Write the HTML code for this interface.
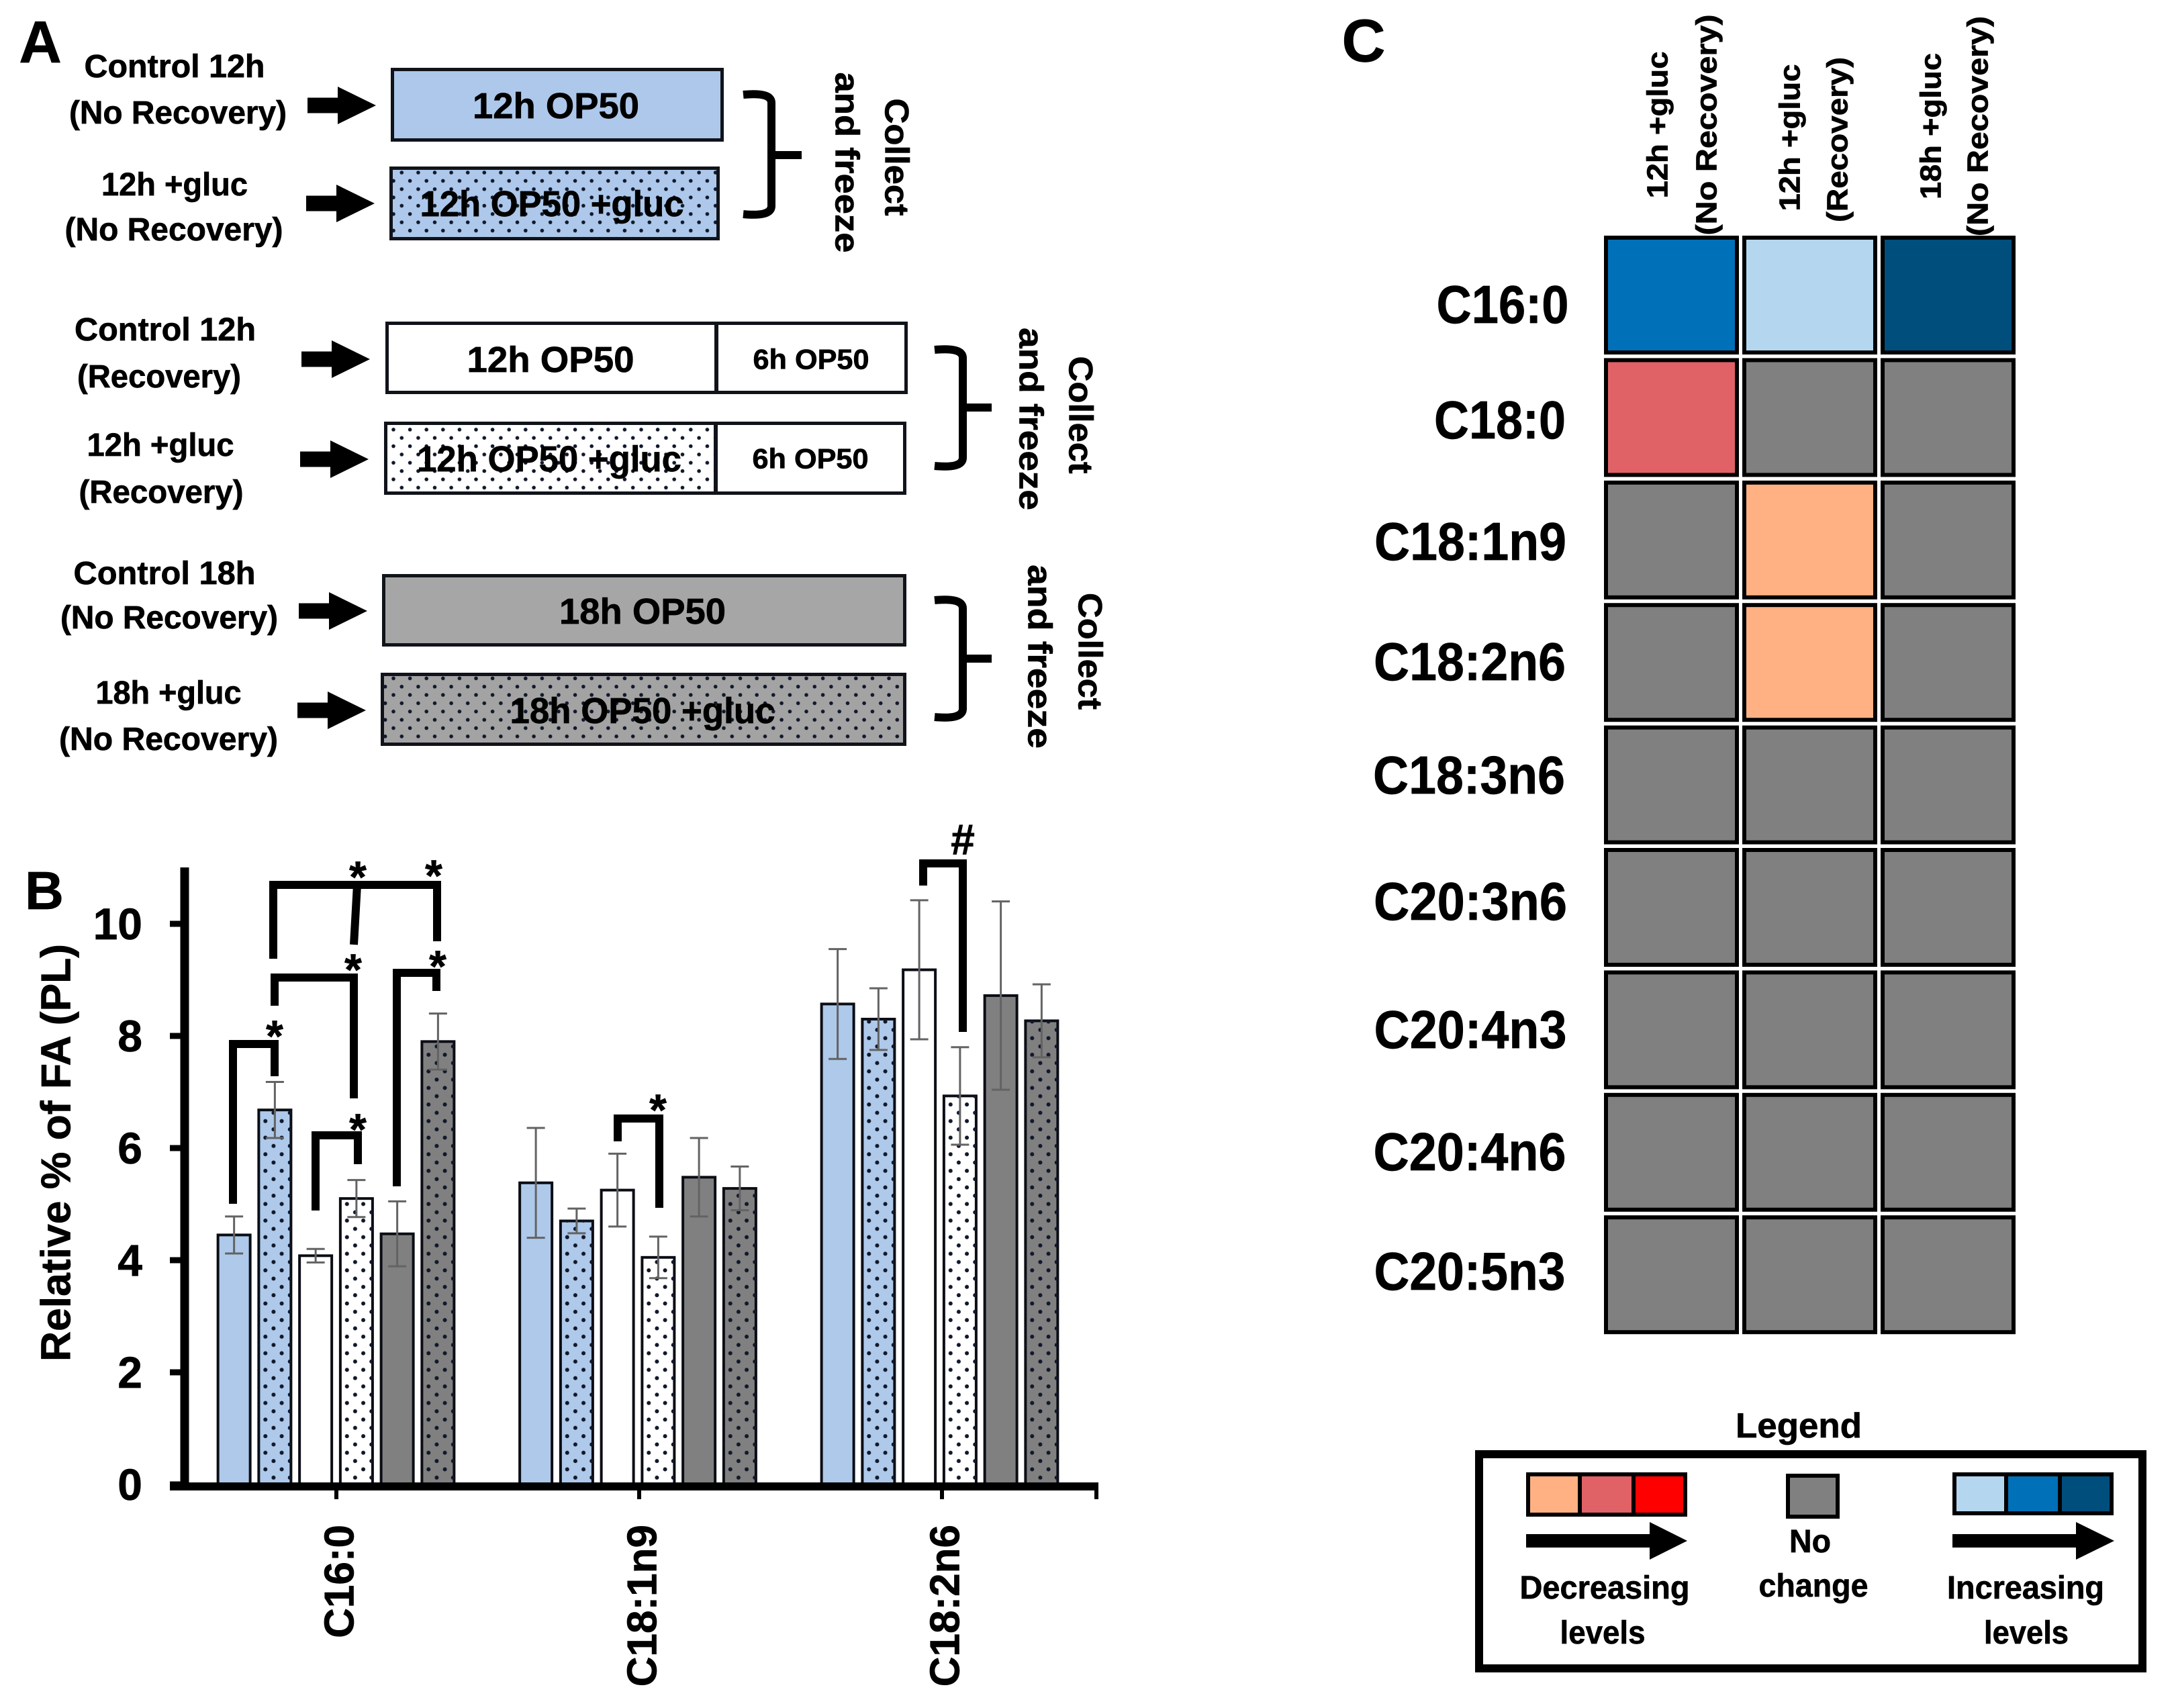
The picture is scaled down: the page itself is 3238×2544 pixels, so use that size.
<!DOCTYPE html>
<html lang="en">
<head>
<meta charset="utf-8">
<title>Fatty acid composition figure</title>
<style>
html,body{margin:0;padding:0;background:#fff;}
svg{display:block;}
text{font-family:"Liberation Sans",sans-serif;font-weight:bold;fill:#000;text-anchor:middle;stroke:#000;stroke-width:.7;}
</style>
</head>
<body>
<svg id="fig" xmlns="http://www.w3.org/2000/svg" width="3238" height="2544" viewBox="0 0 3238 2544">
<defs>
<pattern id="dotsA" patternUnits="userSpaceOnUse" x="592.3" y="251" width="24.6" height="24.7">
<circle cx="6" cy="6" r="2.8" fill="#10182a"/><circle cx="18.3" cy="18.35" r="2.8" fill="#10182a"/>
</pattern>
</defs>
<rect width="3238" height="2544" fill="#fff"/>

<!-- PANEL A -->
<g>
<text x="60" y="62" dy=".35em" font-size="88">A</text>

<text x="260" y="98" dy=".35em" font-size="48" textLength="269" lengthAdjust="spacingAndGlyphs">Control 12h</text>
<text x="265" y="167" dy=".35em" font-size="48" textLength="324" lengthAdjust="spacingAndGlyphs">(No Recovery)</text>
<text x="260" y="274" dy=".35em" font-size="48" textLength="218" lengthAdjust="spacingAndGlyphs">12h +gluc</text>
<text x="259" y="341" dy=".35em" font-size="48" textLength="325" lengthAdjust="spacingAndGlyphs">(No Recovery)</text>
<text x="246" y="490" dy=".35em" font-size="48" textLength="270" lengthAdjust="spacingAndGlyphs">Control 12h</text>
<text x="237" y="560" dy=".35em" font-size="48" textLength="244" lengthAdjust="spacingAndGlyphs">(Recovery)</text>
<text x="239" y="662" dy=".35em" font-size="48" textLength="219" lengthAdjust="spacingAndGlyphs">12h +gluc</text>
<text x="240" y="732" dy=".35em" font-size="48" textLength="245" lengthAdjust="spacingAndGlyphs">(Recovery)</text>
<text x="245" y="853" dy=".35em" font-size="48" textLength="271" lengthAdjust="spacingAndGlyphs">Control 18h</text>
<text x="252" y="919" dy=".35em" font-size="48" textLength="324" lengthAdjust="spacingAndGlyphs">(No Recovery)</text>
<text x="251" y="1031" dy=".35em" font-size="48" textLength="217" lengthAdjust="spacingAndGlyphs">18h +gluc</text>
<text x="251" y="1100" dy=".35em" font-size="48" textLength="326" lengthAdjust="spacingAndGlyphs">(No Recovery)</text>

<polygon transform="translate(458,157)" points="0,-11.5 45,-11.5 45,-28 102,0 45,28 45,11.5 0,11.5" fill="#000"/>
<polygon transform="translate(456,303)" points="0,-11.5 45,-11.5 45,-28 102,0 45,28 45,11.5 0,11.5" fill="#000"/>
<polygon transform="translate(449,535)" points="0,-11.5 45,-11.5 45,-28 102,0 45,28 45,11.5 0,11.5" fill="#000"/>
<polygon transform="translate(447,684)" points="0,-11.5 45,-11.5 45,-28 102,0 45,28 45,11.5 0,11.5" fill="#000"/>
<polygon transform="translate(445,910)" points="0,-11.5 45,-11.5 45,-28 102,0 45,28 45,11.5 0,11.5" fill="#000"/>
<polygon transform="translate(443,1058)" points="0,-11.5 45,-11.5 45,-28 102,0 45,28 45,11.5 0,11.5" fill="#000"/>

<rect x="584.5" y="103.5" width="491" height="105" fill="#adc8ea" stroke="#10131a" stroke-width="5"/>
<text x="828" y="157" dy=".35em" font-size="54" textLength="248" lengthAdjust="spacingAndGlyphs">12h OP50</text>

<rect x="582.5" y="250.5" width="487" height="105" fill="#adc8ea" stroke="#10131a" stroke-width="5"/>
<rect x="585" y="253" width="482" height="100" fill="url(#dotsA)"/>
<text x="822" y="303" dy=".35em" font-size="54" textLength="393" lengthAdjust="spacingAndGlyphs">12h OP50 +gluc</text>

<rect x="576.5" y="481.5" width="773" height="103" fill="#fff" stroke="#10131a" stroke-width="5"/>
<line x1="1067" y1="481" x2="1067" y2="585" stroke="#10131a" stroke-width="6"/>
<text x="820" y="535" dy=".35em" font-size="54" textLength="249" lengthAdjust="spacingAndGlyphs">12h OP50</text>
<text x="1208" y="535" dy=".35em" font-size="42" textLength="173" lengthAdjust="spacingAndGlyphs">6h OP50</text>

<rect x="574.5" y="630.5" width="773" height="104" fill="#fff" stroke="#10131a" stroke-width="5"/>
<rect x="577" y="633" width="488" height="99" fill="url(#dotsA)"/>
<line x1="1066" y1="630" x2="1066" y2="735" stroke="#10131a" stroke-width="6"/>
<text x="818" y="683" dy=".35em" font-size="54" textLength="394" lengthAdjust="spacingAndGlyphs">12h OP50 +gluc</text>
<text x="1207" y="683" dy=".35em" font-size="42" textLength="173" lengthAdjust="spacingAndGlyphs">6h OP50</text>

<rect x="571.5" y="857.5" width="776" height="103" fill="#a6a6a6" stroke="#10131a" stroke-width="5"/>
<text x="957" y="910" dy=".35em" font-size="54" textLength="248" lengthAdjust="spacingAndGlyphs">18h OP50</text>

<rect x="569.5" y="1004.5" width="778" height="104" fill="#a3a3a3" stroke="#10131a" stroke-width="5"/>
<rect x="572" y="1007" width="773" height="99" fill="url(#dotsA)"/>
<text x="957" y="1058" dy=".35em" font-size="54" textLength="395" lengthAdjust="spacingAndGlyphs">18h OP50 +gluc</text>

<path d="M1107,141 Q1149,137 1149,153 V307 Q1149,323 1107,319 M1149,231 H1194" fill="none" stroke="#000" stroke-width="12"/>
<path d="M1392,521 Q1434,517 1434,533 V682 Q1434,698 1392,694 M1434,607 H1477" fill="none" stroke="#000" stroke-width="12"/>
<path d="M1392,894 Q1434,890 1434,906 V1056 Q1434,1072 1392,1068 M1434,981 H1477" fill="none" stroke="#000" stroke-width="12"/>

<text transform="translate(1336,234) rotate(90)" dy=".35em" font-size="50" textLength="175" lengthAdjust="spacingAndGlyphs">Collect</text>
<text transform="translate(1262,242) rotate(90)" dy=".35em" font-size="50" textLength="269" lengthAdjust="spacingAndGlyphs">and freeze</text>
<text transform="translate(1610,618) rotate(90)" dy=".35em" font-size="50" textLength="175" lengthAdjust="spacingAndGlyphs">Collect</text>
<text transform="translate(1536,624) rotate(90)" dy=".35em" font-size="50" textLength="272" lengthAdjust="spacingAndGlyphs">and freeze</text>
<text transform="translate(1624,970) rotate(90)" dy=".35em" font-size="50" textLength="174" lengthAdjust="spacingAndGlyphs">Collect</text>
<text transform="translate(1549,978) rotate(90)" dy=".35em" font-size="50" textLength="274" lengthAdjust="spacingAndGlyphs">and freeze</text>
</g>

<!-- PANEL B -->
<g id="panelB">
<text x="66" y="1326" dy=".35em" font-size="80">B</text>
<text transform="translate(83,1717) rotate(-90)" dy=".35em" font-size="62" textLength="622" lengthAdjust="spacingAndGlyphs">Relative % of FA (PL)</text>
<g id="bars"></g>
<g id="axes"></g>
<g fill="none" stroke="#000" stroke-width="12">
<path d="M407,1428 V1318 H651 V1402 M532,1318 L527,1407"/>
<path d="M409,1498 V1456 H527 V1636"/>
<path d="M347,1793 V1555 H409 V1603"/>
<path d="M470,1803 V1691 H533 V1734"/>
<path d="M591,1767 V1449 H650 V1476"/>
<path d="M920,1700 V1666 H982 V1799"/>
<path d="M1375,1319 V1286 H1434 V1537"/>
</g>
<g>
<text x="533" y="1329" font-size="66">*</text>
<text x="646" y="1327" font-size="66">*</text>
<text x="526" y="1467" font-size="66">*</text>
<text x="652" y="1462" font-size="66">*</text>
<text x="409" y="1566" font-size="66">*</text>
<text x="533" y="1705" font-size="66">*</text>
<text x="980" y="1676" font-size="66">*</text>
<text x="1434" y="1250" dy=".35em" font-size="64">#</text>
</g>
</g>

<!-- PANEL C -->
<g>
<text x="2031" y="60" dy=".35em" font-size="90">C</text>
<text transform="translate(2468,186) rotate(-90)" dy=".35em" font-size="44" textLength="219" lengthAdjust="spacingAndGlyphs">12h +gluc</text>
<text transform="translate(2541,186) rotate(-90)" dy=".35em" font-size="44" textLength="329" lengthAdjust="spacingAndGlyphs">(No Recovery)</text>
<text transform="translate(2665,205) rotate(-90)" dy=".35em" font-size="44" textLength="219" lengthAdjust="spacingAndGlyphs">12h +gluc</text>
<text transform="translate(2736,208) rotate(-90)" dy=".35em" font-size="44" textLength="246" lengthAdjust="spacingAndGlyphs">(Recovery)</text>
<text transform="translate(2875,188) rotate(-90)" dy=".35em" font-size="44" textLength="218" lengthAdjust="spacingAndGlyphs">18h +gluc</text>
<text transform="translate(2945,188) rotate(-90)" dy=".35em" font-size="44" textLength="328" lengthAdjust="spacingAndGlyphs">(No Recovery)</text>

<text x="2238" y="453" dy=".35em" font-size="80" textLength="197" lengthAdjust="spacingAndGlyphs">C16:0</text>
<text x="2234" y="625" dy=".35em" font-size="80" textLength="196" lengthAdjust="spacingAndGlyphs">C18:0</text>
<text x="2190" y="806" dy=".35em" font-size="80" textLength="286" lengthAdjust="spacingAndGlyphs">C18:1n9</text>
<text x="2189" y="985" dy=".35em" font-size="80" textLength="286" lengthAdjust="spacingAndGlyphs">C18:2n6</text>
<text x="2188" y="1154" dy=".35em" font-size="80" textLength="286" lengthAdjust="spacingAndGlyphs">C18:3n6</text>
<text x="2190" y="1342" dy=".35em" font-size="80" textLength="288" lengthAdjust="spacingAndGlyphs">C20:3n6</text>
<text x="2190" y="1533" dy=".35em" font-size="80" textLength="287" lengthAdjust="spacingAndGlyphs">C20:4n3</text>
<text x="2189" y="1715" dy=".35em" font-size="80" textLength="287" lengthAdjust="spacingAndGlyphs">C20:4n6</text>
<text x="2189" y="1893" dy=".35em" font-size="80" textLength="285" lengthAdjust="spacingAndGlyphs">C20:5n3</text>

<g id="heat"></g>

<g transform="translate(-4,0)">
<text x="2683" y="2123" dy=".35em" font-size="52" textLength="188" lengthAdjust="spacingAndGlyphs">Legend</text>
<rect x="2207" y="2166" width="988" height="319" fill="#fff" stroke="#000" stroke-width="12"/>

<rect x="2280" y="2196" width="77" height="60" fill="#ffb183" stroke="#000" stroke-width="6"/>
<rect x="2357" y="2196" width="80" height="60" fill="#e06266" stroke="#000" stroke-width="6"/>
<rect x="2437" y="2196" width="77" height="60" fill="#ff0000" stroke="#000" stroke-width="6"/>
<rect x="2667" y="2198" width="74" height="61" fill="#808080" stroke="#000" stroke-width="6"/>
<rect x="2915" y="2196" width="77" height="58" fill="#b4d6ef" stroke="#000" stroke-width="6"/>
<rect x="2992" y="2196" width="80" height="58" fill="#0070b8" stroke="#000" stroke-width="6"/>
<rect x="3072" y="2196" width="77" height="58" fill="#004e7c" stroke="#000" stroke-width="6"/>

<polygon transform="translate(2277,2295)" points="0,-10 184,-10 184,-28 240,0 184,28 184,10 0,10" fill="#000"/>
<polygon transform="translate(2912,2295)" points="0,-10 184,-10 184,-28 241,0 184,28 184,10 0,10" fill="#000"/>

<text x="2700" y="2295" dy=".35em" font-size="48" textLength="62" lengthAdjust="spacingAndGlyphs">No</text>
<text x="2705" y="2361" dy=".35em" font-size="48" textLength="163" lengthAdjust="spacingAndGlyphs">change</text>
<text x="2394" y="2364" dy=".35em" font-size="48" textLength="253" lengthAdjust="spacingAndGlyphs">Decreasing</text>
<text x="2391" y="2431" dy=".35em" font-size="48" textLength="127" lengthAdjust="spacingAndGlyphs">levels</text>
<text x="3021" y="2364" dy=".35em" font-size="48" textLength="234" lengthAdjust="spacingAndGlyphs">Increasing</text>
<text x="3022" y="2431" dy=".35em" font-size="48" textLength="126" lengthAdjust="spacingAndGlyphs">levels</text>
</g>
</g>
</svg>

<script>
// Panel B data
const categories = ['C16:0', 'C18:1n9', 'C18:2n6'];
const yTicks = [0, 2, 4, 6, 8, 10];
const control12hNoRecovery = [4.45, 5.38, 8.57];
const gluc12hNoRecovery = [6.68, 4.70, 8.30];
const control12hRecovery = [4.08, 5.25, 9.18];
const gluc12hRecovery = [5.10, 4.05, 6.93];
const control18hNoRecovery = [4.47, 5.48, 8.72];
const gluc18hNoRecovery = [7.90, 5.28, 8.27];
const errControl12hNoRecovery = [0.33, 0.98, 0.98];
const errGluc12hNoRecovery = [0.50, 0.22, 0.55];
const errControl12hRecovery = [0.12, 0.65, 1.24];
const errGluc12hRecovery = [0.33, 0.37, 0.87];
const errControl18hNoRecovery = [0.58, 0.70, 1.68];
const errGluc18hNoRecovery = [0.50, 0.39, 0.65];

// Panel C data: level per cell (+ increase, - decrease, 0 no change)
const heatRowNames = ['C16:0', 'C18:0', 'C18:1n9', 'C18:2n6', 'C18:3n6', 'C20:3n6', 'C20:4n3', 'C20:4n6', 'C20:5n3'];
const heat12hGlucNoRecovery = [2, -2, 0, 0, 0, 0, 0, 0, 0];
const heat12hGlucRecovery = [1, 0, -1, -1, 0, 0, 0, 0, 0];
const heat18hGlucNoRecovery = [3, 0, 0, 0, 0, 0, 0, 0, 0];

const NS = 'http://www.w3.org/2000/svg';
const series = [control12hNoRecovery, gluc12hNoRecovery, control12hRecovery, gluc12hRecovery, control18hNoRecovery, gluc18hNoRecovery];
const errors = [errControl12hNoRecovery, errGluc12hNoRecovery, errControl12hRecovery, errGluc12hRecovery, errControl18hNoRecovery, errGluc18hNoRecovery];
const fills = ['#aec9ea', '#aec9ea', '#ffffff', '#ffffff', '#808080', '#808080'];
const dotted = [false, true, false, true, false, true];

function yScale(v) { return 2211 - v * 83.5; }
function xScale(g, s) { return 500.5 + g * 449.5 + (s - 2.5) * 60.75; }
function tickX(g) { return 501 + g * 451; }
function mk(tag, parent) { const el = document.createElementNS(NS, tag); parent.appendChild(el); return el; }

const barsG = document.getElementById('bars');
const axesG = document.getElementById('axes');
const defs = document.querySelector('#fig defs');

series.forEach(function (vals, s) {
  vals.forEach(function (v, g) {
    const cx = xScale(g, s);
    const w = 48;
    const bar = mk('rect', barsG);
    
    
    bar.setAttribute('x', cx - w / 2);
    bar.setAttribute('y', yScale(v));
    bar.setAttribute('width', w);
    bar.setAttribute('height', yScale(0) - yScale(v));
    bar.setAttribute('fill', fills[s]);
    bar.setAttribute('stroke', '#0a0d14');
    bar.setAttribute('stroke-width', '4');
    if (dotted[s]) {
      const pid = 'dot-' + g + '-' + s;
      const p = mk('pattern', defs);
      p.setAttribute('id', pid);
      p.setAttribute('patternUnits', 'userSpaceOnUse');
      p.setAttribute('x', cx - 14.1);
      p.setAttribute('y', 1565);
      p.setAttribute('width', 24.3);
      p.setAttribute('height', 24.7);
      const c1 = mk('circle', p);
      c1.setAttribute('cx', 0);
      c1.setAttribute('cy', 6);
      c1.setAttribute('r', 3);
      c1.setAttribute('fill', '#10182a');
      const c1b = mk('circle', p);
      c1b.setAttribute('cx', 24.3);
      c1b.setAttribute('cy', 6);
      c1b.setAttribute('r', 3);
      c1b.setAttribute('fill', '#10182a');
      const c2 = mk('circle', p);
      c2.setAttribute('cx', 12.15);
      c2.setAttribute('cy', 18.35);
      c2.setAttribute('r', 3);
      c2.setAttribute('fill', '#10182a');
      const dots = mk('rect', barsG);
      
      
      dots.setAttribute('x', cx - w / 2);
      dots.setAttribute('y', yScale(v));
      dots.setAttribute('width', w);
      dots.setAttribute('height', yScale(0) - yScale(v));
      dots.setAttribute('fill', 'url(#' + pid + ')');
    }
  });
});

series.forEach(function (vals, s) {
  vals.forEach(function (v, g) {
    const cx = xScale(g, s);
    const e = errors[s][g];
    const path = mk('path', barsG);
    
    
    const top = yScale(v + e);
    const bot = yScale(v - e);
    path.setAttribute('d', 'M' + (cx - 13.5) + ',' + top + ' H' + (cx + 13.5) + ' M' + cx + ',' + top + ' V' + bot + ' M' + (cx - 13.5) + ',' + bot + ' H' + (cx + 13.5));
    path.setAttribute('stroke', '#636363');
    path.setAttribute('stroke-width', '3');
    path.setAttribute('fill', 'none');
  });
});

const yAxis = mk('line', axesG);


yAxis.setAttribute('x1', 275);
yAxis.setAttribute('x2', 275);
yAxis.setAttribute('y1', 1292);
yAxis.setAttribute('y2', 2220);
yAxis.setAttribute('stroke', '#000');
yAxis.setAttribute('stroke-width', 13);

const xAxis = mk('line', axesG);


xAxis.setAttribute('x1', 253);
xAxis.setAttribute('x2', 1636);
xAxis.setAttribute('y1', 2214);
xAxis.setAttribute('y2', 2214);
xAxis.setAttribute('stroke', '#000');
xAxis.setAttribute('stroke-width', 12);

yTicks.forEach(function (t) {
  const tick = mk('line', axesG);
  
  
  tick.setAttribute('x1', 253);
  tick.setAttribute('x2', 275);
  tick.setAttribute('y1', yScale(t));
  tick.setAttribute('y2', yScale(t));
  tick.setAttribute('stroke', '#000');
  tick.setAttribute('stroke-width', 9);
  const lab = mk('text', axesG);
  
  
  lab.setAttribute('x', 212);
  lab.setAttribute('y', yScale(t));
  lab.setAttribute('dy', '.35em');
  lab.setAttribute('font-size', 66);
  lab.setAttribute('style', 'text-anchor:end');
  lab.textContent = t;
});

categories.forEach(function (c, g) {
  const cx = tickX(g);
  const tick = mk('line', axesG);
  
  
  tick.setAttribute('x1', cx);
  tick.setAttribute('x2', cx);
  tick.setAttribute('y1', 2214);
  tick.setAttribute('y2', 2233);
  tick.setAttribute('stroke', '#000');
  tick.setAttribute('stroke-width', 6);
  const lab = mk('text', axesG);
  
  
  lab.setAttribute('transform', 'translate(' + (cx + 4) + ',2271) rotate(-90)');
  lab.setAttribute('dy', '.35em');
  lab.setAttribute('font-size', 62);
  lab.setAttribute('style', 'text-anchor:end');
  lab.textContent = c;
});
const endTick = mk('line', axesG);


endTick.setAttribute('x1', 1633);
endTick.setAttribute('x2', 1633);
endTick.setAttribute('y1', 2214);
endTick.setAttribute('y2', 2233);
endTick.setAttribute('stroke', '#000');
endTick.setAttribute('stroke-width', 6);

// Heatmap
const heatColumns = [heat12hGlucNoRecovery, heat12hGlucRecovery, heat18hGlucNoRecovery];
function levelColor(l) {
  if (l === 1) return '#b4d6ef';
  if (l === 2) return '#0070b8';
  if (l === 3) return '#004e7c';
  if (l === -1) return '#ffb183';
  if (l === -2) return '#e06266';
  if (l === -3) return '#ff0000';
  return '#808080';
}
function heatX(c) { return 2389 + c * 206; }
function heatY(r) { return 351 + r * 182.4; }
const heatG = document.getElementById('heat');
heatColumns.forEach(function (col, c) {
  col.forEach(function (level, r) {
    const cell = mk('rect', heatG);
    
    
    cell.setAttribute('x', heatX(c) + 3);
    cell.setAttribute('y', heatY(r) + 3);
    cell.setAttribute('width', 195);
    cell.setAttribute('height', 171);
    cell.setAttribute('fill', levelColor(level));
    cell.setAttribute('stroke', '#000');
    cell.setAttribute('stroke-width', 6);
  });
});
</script>
</body>
</html>
